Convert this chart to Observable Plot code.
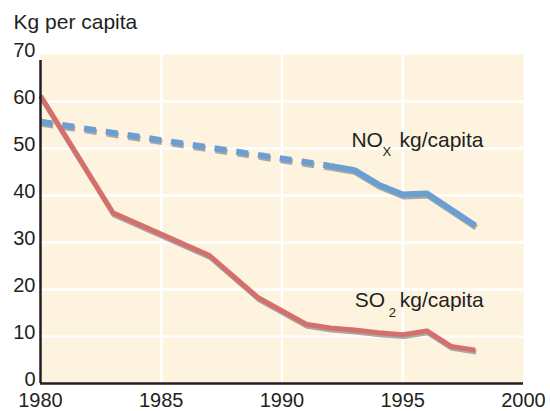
<!DOCTYPE html>
<html>
<head>
<meta charset="utf-8">
<script src="https://cdn.jsdelivr.net/npm/d3@7"></script>
<script src="https://cdn.jsdelivr.net/npm/@observablehq/plot@0.6"></script>
<style>
  html, body { margin: 0; padding: 0; background: #ffffff; }
</style>
</head>
<body>
<div id="chart"></div>
<script>
// Data
const so2Years = [1980, 1983, 1987, 1989, 1991, 1992, 1993, 1994, 1995, 1996, 1997, 1998];
const so2Values = [61.2, 36.3, 27.2, 18.3, 12.6, 11.8, 11.4, 10.8, 10.4, 11.2, 7.9, 7.1];

const noxEstYears = [1980, 1992];
const noxEstValues = [55.7, 46.3];

const noxYears = [1992, 1993, 1994, 1995, 1996, 1998];
const noxValues = [46.3, 45.4, 42.3, 40.2, 40.4, 33.6];

const xTicks = [1980, 1985, 1990, 1995, 2000];
const yTicks = [0, 10, 20, 30, 40, 50, 60, 70];

const yTitle = "Kg per capita";
const noxLabel = ["NO", "X", "kg/capita"];
const so2Label = ["SO", "2", "kg/capita"];

const so2 = so2Years.map((year, i) => ({year, value: so2Values[i]}));
const noxEst = noxEstYears.map((year, i) => ({year, value: noxEstValues[i]}));
const nox = noxYears.map((year, i) => ({year, value: noxValues[i]}));

const RED = "#d4706b";
const BLUE = "#6b9fd2";
const SHADOW = "#a8a8a8";
const INK = "#231f20";
const FONT = "'Liberation Sans', Arial, Helvetica, sans-serif";

const noxAnchor = nox.filter(d => d.year === 1993);
const so2Anchor = so2.filter(d => d.year === 1995);

const chart = Plot.plot({
  width: 550,
  height: 411,
  marginLeft: 40,
  marginRight: 27,
  marginTop: 54,
  marginBottom: 28,
  style: {fontFamily: FONT, fontSize: "20px", color: INK, background: "#ffffff"},
  x: {domain: [1980, 2000], ticks: xTicks},
  y: {domain: [0, 70], ticks: yTicks},
  marks: [
    Plot.frame({fill: "#fdf3df", stroke: "none"}),
    Plot.gridX({ticks: xTicks.slice(1, -1), stroke: "#ffffff", strokeOpacity: 1, strokeWidth: 2.5}),
    Plot.gridY({ticks: yTicks.slice(1, -1), stroke: "#ffffff", strokeOpacity: 1, strokeWidth: 2.5}),
    // shadows
    Plot.line(noxEst, {x: "year", y: "value", stroke: SHADOW, strokeWidth: 6, dx: 1, dy: 2, strokeDasharray: "12,10", strokeLinecap: "butt"}),
    Plot.line(nox, {x: "year", y: "value", stroke: SHADOW, strokeWidth: 6, dx: 1, dy: 2, strokeLinecap: "butt"}),
    Plot.line(so2, {x: "year", y: "value", stroke: SHADOW, strokeWidth: 5, dx: 1, dy: 2, strokeLinecap: "butt"}),
    // lines
    Plot.line(noxEst, {x: "year", y: "value", stroke: BLUE, strokeWidth: 6, strokeDasharray: "12,10", strokeLinecap: "butt"}),
    Plot.line(nox, {x: "year", y: "value", stroke: BLUE, strokeWidth: 6, strokeLinecap: "butt"}),
    Plot.line(so2, {x: "year", y: "value", stroke: RED, strokeWidth: 5, strokeLinecap: "butt"}),
    // axes
    Plot.ruleY([0], {stroke: INK, strokeWidth: 2.5}),
    Plot.ruleX([1980], {stroke: INK, strokeWidth: 2.5, insetTop: 6}),
    Plot.axisX({ticks: xTicks, tickSize: 0, tickPadding: 9, tickFormat: d => String(d), fill: INK, fontSize: 20, label: null}),
    Plot.axisY({ticks: yTicks, tickSize: 0, tickPadding: 5, dy: -4, fill: INK, fontSize: 20, label: null}),
    // y title
    Plot.text([yTitle], {frameAnchor: "top-left", textAnchor: "start", lineAnchor: "bottom", dx: -27, dy: -26, fill: INK, fontSize: 21}),
    // NOx label
    Plot.text(noxAnchor, {x: "year", y: "value", text: () => noxLabel[0], textAnchor: "start", lineAnchor: "bottom", dx: -3, dy: -23, fill: INK, fontSize: 21}),
    Plot.text(noxAnchor, {x: "year", y: "value", text: () => noxLabel[1], textAnchor: "start", lineAnchor: "bottom", dx: 28, dy: -14, fill: INK, fontSize: 13}),
    Plot.text(noxAnchor, {x: "year", y: "value", text: () => noxLabel[2], textAnchor: "start", lineAnchor: "bottom", dx: 45, dy: -23, fill: INK, fontSize: 21}),
    // SO2 label
    Plot.text(so2Anchor, {x: "year", y: "value", text: () => so2Label[0], textAnchor: "start", lineAnchor: "bottom", dx: -48, dy: -28, fill: INK, fontSize: 21}),
    Plot.text(so2Anchor, {x: "year", y: "value", text: () => so2Label[1], textAnchor: "start", lineAnchor: "bottom", dx: -14, dy: -18, fill: INK, fontSize: 13}),
    Plot.text(so2Anchor, {x: "year", y: "value", text: () => so2Label[2], textAnchor: "start", lineAnchor: "bottom", dx: -3, dy: -28, fill: INK, fontSize: 21})
  ]
});
document.getElementById("chart").appendChild(chart);
</script>
</body>
</html>
